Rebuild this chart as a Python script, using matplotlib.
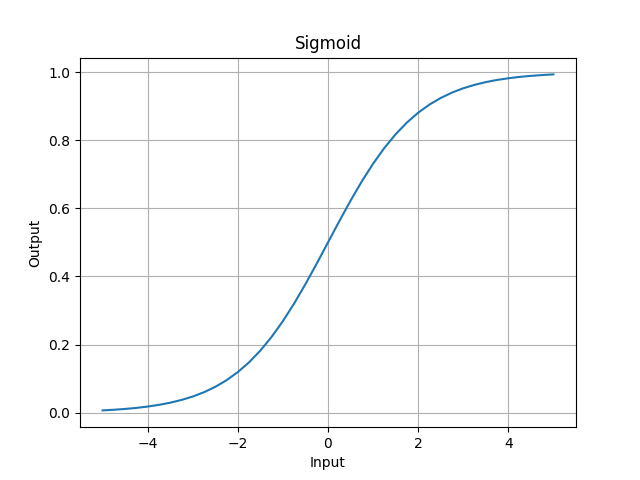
import matplotlib
matplotlib.use("Agg")
import matplotlib.pyplot as plt

# Values
x_vals = [-5.0, -4.75, -4.5, -4.25, -4.0, -3.75, -3.5, -3.25, -3.0, -2.75,
          -2.5, -2.25, -2.0, -1.75, -1.5, -1.25, -1.0, -0.75, -0.5, -0.25,
          0.0, 0.25, 0.5, 0.75, 1.0, 1.25, 1.5, 1.75, 2.0, 2.25,
          2.5, 2.75, 3.0, 3.25, 3.5, 3.75, 4.0, 4.25, 4.5, 4.75, 5.0]
y_vals = [0.0067, 0.0086, 0.0110, 0.0140, 0.0180, 0.0230, 0.0293, 0.0374, 0.0474, 0.0601,
          0.0759, 0.0953, 0.1192, 0.1480, 0.1824, 0.2227, 0.2689, 0.3208, 0.3775, 0.4378,
          0.5000, 0.5622, 0.6225, 0.6792, 0.7311, 0.7773, 0.8176, 0.8520, 0.8808, 0.9047,
          0.9241, 0.9399, 0.9526, 0.9626, 0.9707, 0.9770, 0.9820, 0.9860, 0.9890, 0.9914, 0.9933]

fig, ax = plt.subplots(figsize=(6.4, 4.8), dpi=100)
ax.plot(x_vals, y_vals)
ax.set_title("Sigmoid")
ax.set_xlabel("Input")
ax.set_ylabel("Output")
ax.grid(True)

plt.savefig("out.png")
plt.close()
